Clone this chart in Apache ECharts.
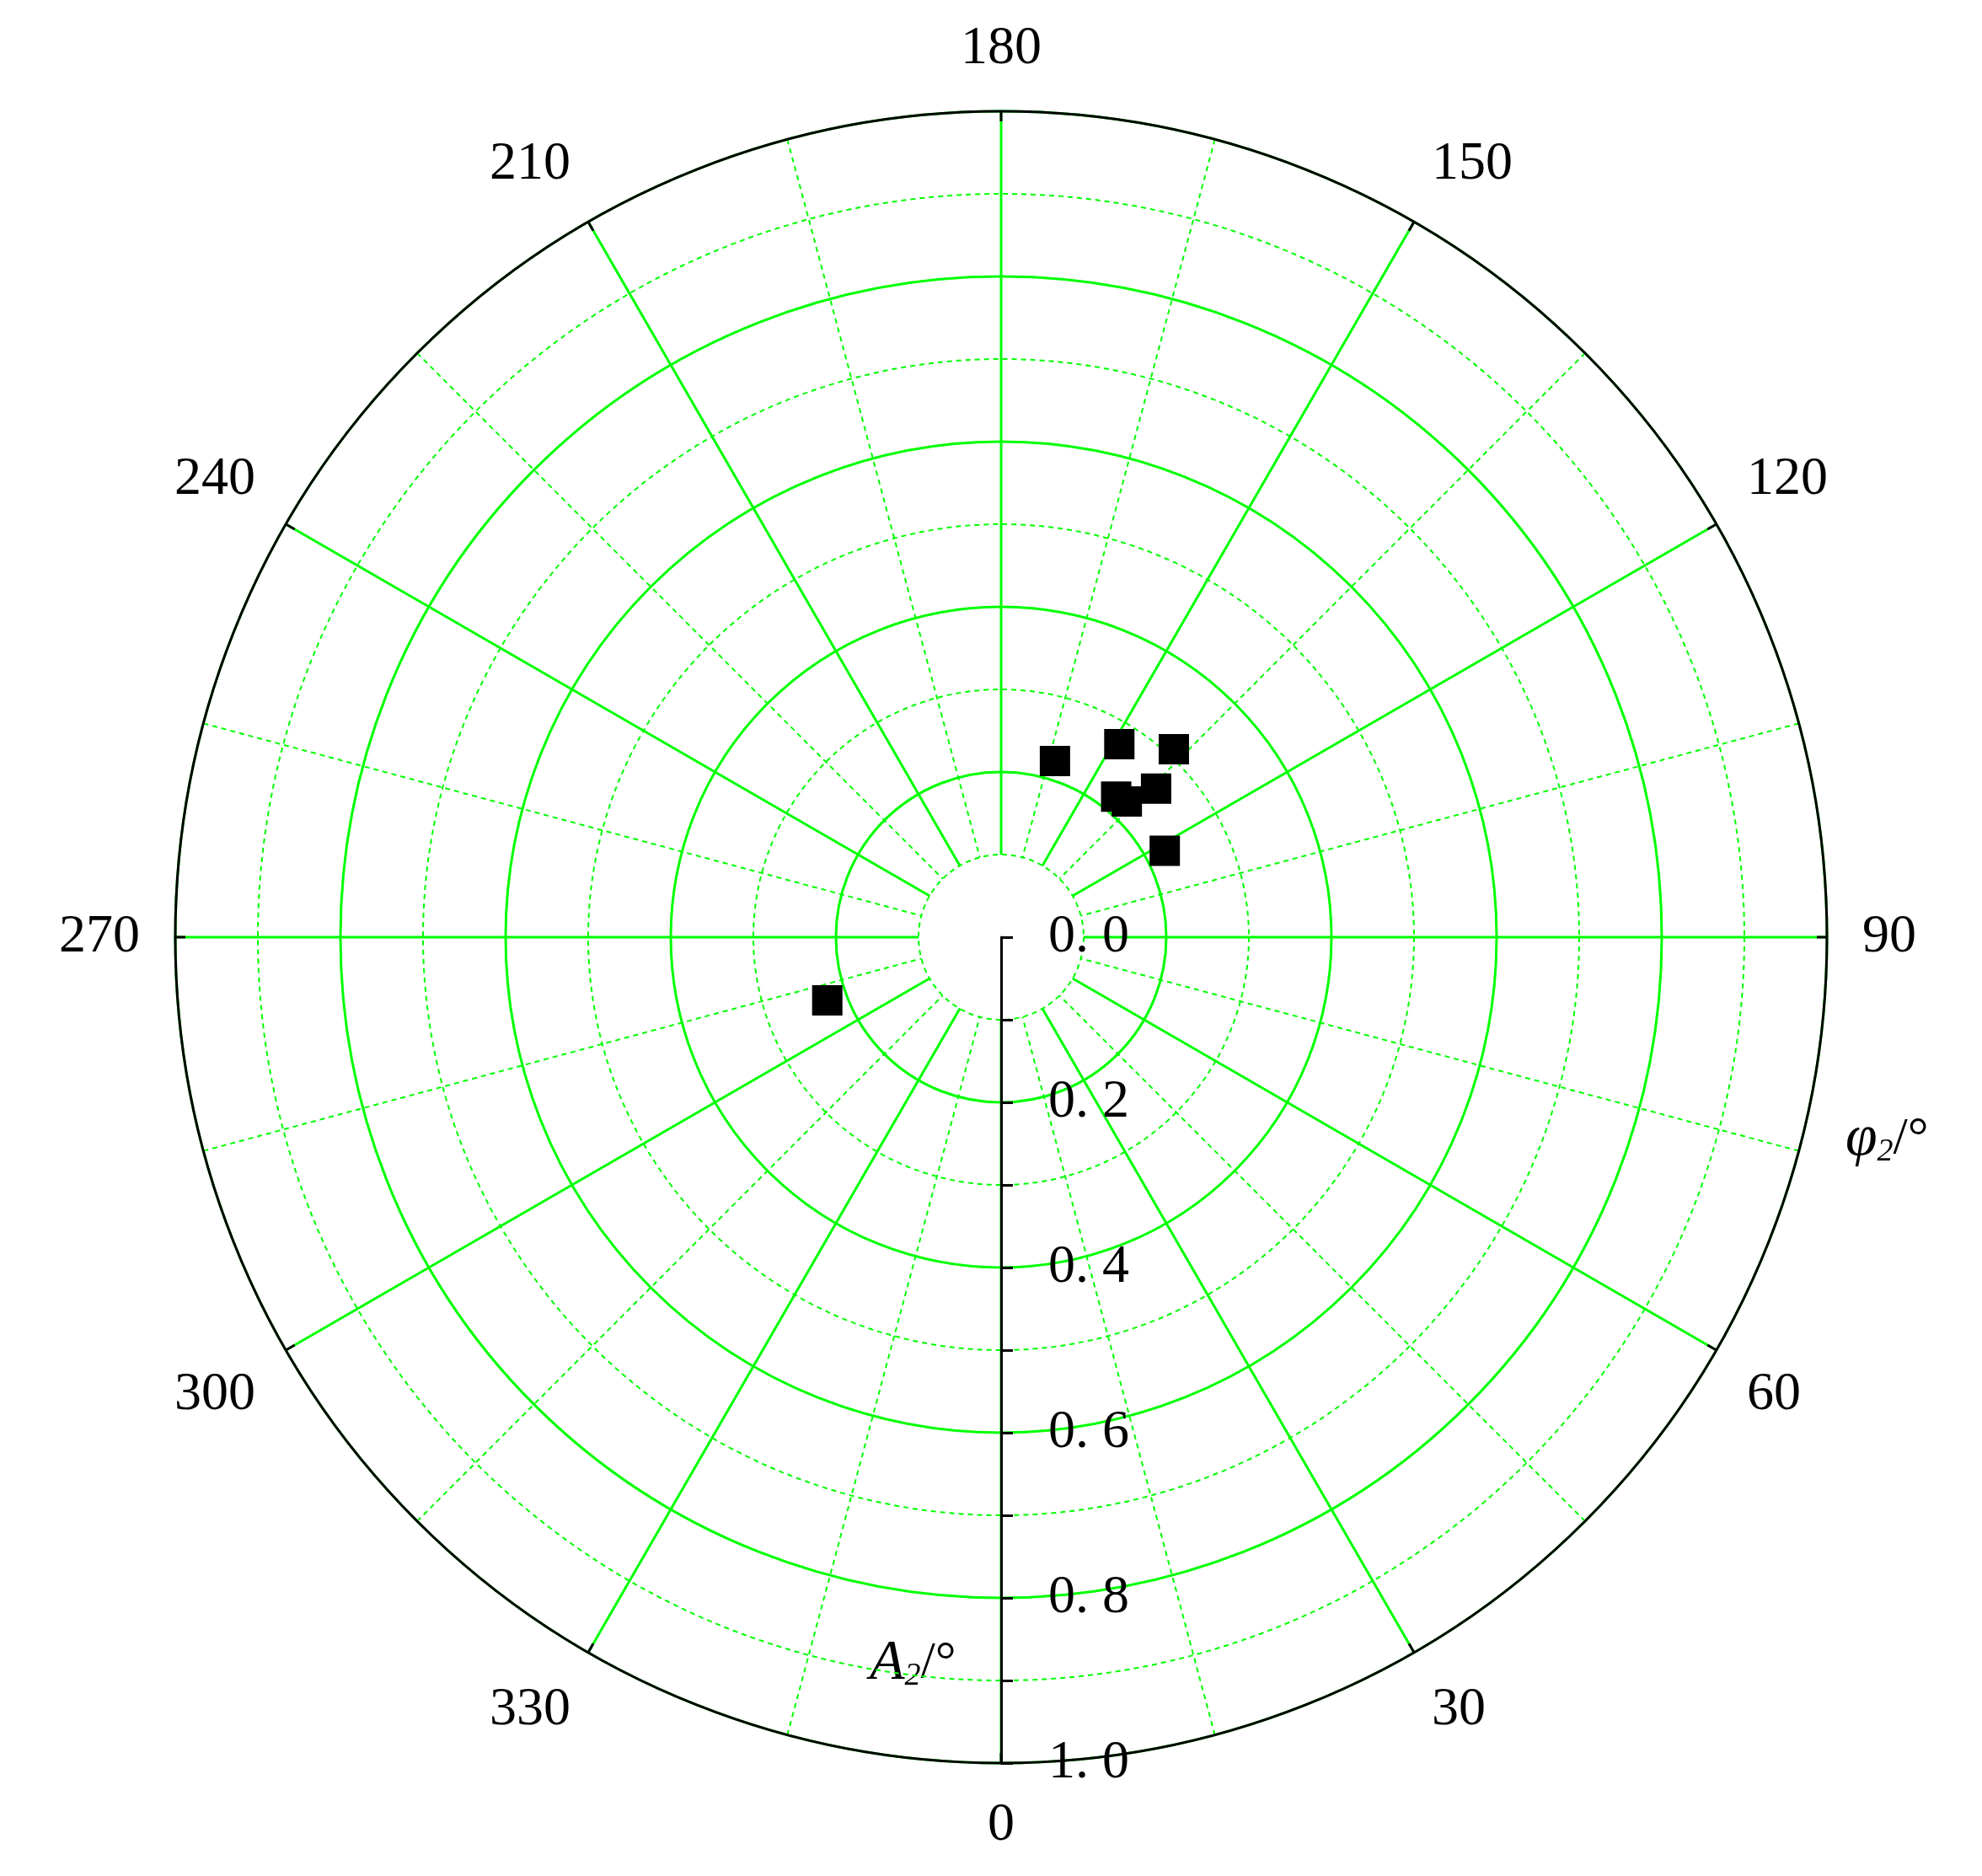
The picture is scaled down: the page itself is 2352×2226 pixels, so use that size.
<!DOCTYPE html>
<html><head><meta charset="utf-8">
<script src="https://cdn.jsdelivr.net/npm/echarts@6/dist/echarts.min.js"></script>
<style>html,body{margin:0;padding:0;background:#fff}#c{width:2352px;height:2226px}</style>
</head><body><div id="c"></div>
<script>
const amplitude = [0.223, 0.274, 0.309, 0.260, 0.220, 0.224, 0.224, 0.224];
const phase = [163, 148.5, 137.4, 133.8, 140.7, 137.2, 117.8, 290];
const radiusTicks = [0, 0.2, 0.4, 0.6, 0.8, 1.0];
const angleTicks = [0, 30, 60, 90, 120, 150, 180, 210, 240, 270, 300, 330];

const C = [1188, 1112], R = 980;
const green = '#00ff00';
const font = '"Liberation Serif","DejaVu Serif",serif';
const hidden = {show:false};
function angleAx(idx, interval, split, extra) {
  return Object.assign({polarIndex: idx, type:'value', min:0, max:360, interval, startAngle:270, clockwise:false,
    axisLine:{show:false}, axisTick:{show:false}, axisLabel:{show:false}, splitLine: split}, extra||{});
}
function radAx(idx, min, interval, split, extra) {
  return Object.assign({polarIndex: idx, type:'value', min, max:1, interval,
    axisLine:{show:false}, axisTick:{show:false}, axisLabel:{show:false}, splitLine: split}, extra||{});
}
const option = {
  animation:false,
  polar:[
    {center:C, radius:[0,R]},
    {center:C, radius:[0,R]},
    {center:C, radius:[R*0.1,R]},
    {center:C, radius:[R*0.1,R]},
    {center:C, radius:[0,R]}
  ],
  angleAxis:[
    angleAx(0, 90, hidden),
    angleAx(1, 90, hidden),
    angleAx(2, 15, {show:true, lineStyle:{color:green, width:2, type:[6,5]}}),
    angleAx(3, 30, {show:true, lineStyle:{color:green, width:3}}),
    angleAx(4, 30, hidden, {
      axisLine:{show:true, lineStyle:{color:'#000', width:3}},
      axisTick:{show:true, inside:true, length:12, lineStyle:{color:'#000', width:3}},
      axisLabel:{show:true, margin:42, color:'#000', fontSize:64, fontFamily:font,
        formatter: v => angleTicks.includes(v) && v!==360 ? String(v) : ''}
    })
  ],
  radiusAxis:[
    radAx(0, 0, 0.1, {show:true, lineStyle:{color:green, width:2, type:[6,5]}}),
    radAx(1, 0, 0.2, {show:true, lineStyle:{color:green, width:3}}),
    radAx(2, 0.1, 0.9, hidden),
    radAx(3, 0.1, 0.9, hidden),
    radAx(4, 0, 0.1, hidden, {
      axisLine:{show:true, lineStyle:{color:'#000', width:3}},
      axisTick:{show:true, length:14, lineStyle:{color:'#000', width:3}},
      axisLabel:{show:true, color:'#000', fontSize:64, fontFamily:font, margin:56,
        formatter: v => radiusTicks.some(t=>Math.abs(t-v)<1e-6) ? v.toFixed(1).replace('.', '. ') : ''}
    })
  ],
  series:[{
    type:'scatter', coordinateSystem:'polar', polarIndex:4,
    symbol:'rect', symbolSize:36, itemStyle:{color:'#000', opacity:1},
    data: amplitude.map((a,i)=>[a, phase[i]])
  }],
  graphic:[
    {type:'text', left:2190, top:1318, style:{text:'{i|φ}{s|2}{n|/°}', rich:{
      i:{fontSize:68, fontStyle:'italic', fontFamily:font, fill:'#000'},
      s:{fontSize:38, fontStyle:'italic', fontFamily:font, fill:'#000', verticalAlign:'bottom'},
      n:{fontSize:62, fontFamily:font, fill:'#000'}}}},
    {type:'text', left:1032, top:1940, style:{text:'{i|A}{s|2}{n|/°}', rich:{
      i:{fontSize:68, fontStyle:'italic', fontFamily:font, fill:'#000'},
      s:{fontSize:38, fontStyle:'italic', fontFamily:font, fill:'#000', verticalAlign:'bottom'},
      n:{fontSize:62, fontFamily:font, fill:'#000'}}}}
  ]
};
echarts.init(document.getElementById('c')).setOption(option);
</script></body></html>
